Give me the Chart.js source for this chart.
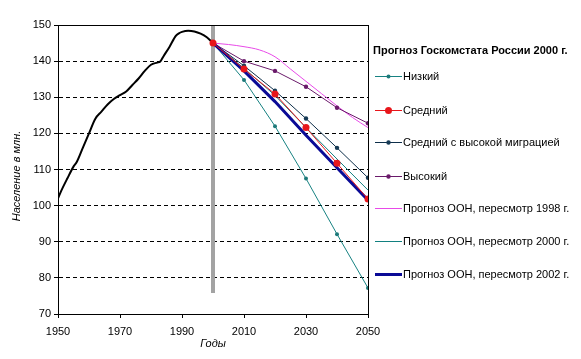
<!DOCTYPE html>
<html>
<head>
<meta charset="utf-8">
<script src="https://cdn.jsdelivr.net/npm/chart.js@4/dist/chart.umd.min.js"></script>
<style>
html,body{margin:0;padding:0;background:#fff;}
canvas{display:block;}
</style>
</head>
<body>
<canvas id="c" width="581" height="359"></canvas>
<script>
// ---- data ----
const histYears  = [1950,1951,1953,1955,1956,1958,1960,1962,1964,1966,1968,1970,1972,1974,1976,1978,1980,1982,1983,1984,1986,1988,1989,1990,1992,1994,1996,1998,2000];
const histValues = [102.0,104.0,107.5,110.8,112.0,116.0,120.0,124.0,126.0,128.0,129.5,130.6,131.6,133.4,135.2,137.3,139.0,139.6,139.9,141.3,144.0,147.0,147.7,148.1,148.4,148.2,147.6,146.6,145.0];

const forecastYears = [2000,2010,2020,2030,2040,2050];
const lowValues     = [145.0,134.8,122.0,107.5,92.1,77.2];
const mediumValues  = [145.0,137.8,130.9,121.6,111.7,101.8];
const medMigrValues = [145.0,138.7,131.8,124.1,116.0,107.7];
const highValues    = [145.0,140.0,137.3,132.9,127.1,122.8];

const un1998Years  = [2000,2005,2010,2015,2020,2025,2030,2035,2040,2045,2050];
const un1998Values = [145.0,144.6,144.0,143.1,141.2,137.8,134.4,131.0,127.6,124.4,121.6];
const un2000Values = [145.0,138.0,130.5,121.6,112.9,104.3];
const un2002Values = [145.0,137.3,128.8,119.5,110.5,101.5];

const markerYear = 2000;
const markerRange = [150, 75.8];

const xTickMin = 1950, xTickMax = 2050, xTickStep = 20;
const yTickMin = 70, yTickMax = 150, yTickStep = 10;

const legendTitle = 'Прогноз Госкомстата России 2000 г.';
const seriesLabels = ['Низкий','Средний','Средний с высокой миграцией','Высокий',
  'Прогноз ООН, пересмотр 1998 г.','Прогноз ООН, пересмотр 2000 г.','Прогноз ООН, пересмотр 2002 г.'];
const xTitle = 'Годы';
const yTitle = 'Население в млн.';

// ---- helpers ----
const pts = (xs, ys) => xs.map((x, i) => ({x, y: ys[i]}));
const FONT = "'Liberation Sans', Arial, sans-serif";

const series = [
  {label: seriesLabels[0], data: pts(forecastYears, lowValues),     color:'#178282', mcolor:'#1d7a7a', width:1, r:2,   order:5},
  {label: seriesLabels[1], data: pts(forecastYears, mediumValues),  color:'#e8161b', mcolor:'#e8161b', width:1, r:3.5, order:1},
  {label: seriesLabels[2], data: pts(forecastYears, medMigrValues), color:'#0e2f4a', mcolor:'#163a55', width:1, r:2.2, order:3},
  {label: seriesLabels[3], data: pts(forecastYears, highValues),    color:'#6a1a6a', mcolor:'#6a1a6a', width:1, r:2.2, order:4},
  {label: seriesLabels[4], data: pts(un1998Years, un1998Values),    color:'#e84ae8', mcolor:null, width:1, r:0, order:6, smooth:true},
  {label: seriesLabels[5], data: pts(forecastYears, un2000Values),  color:'#128080', mcolor:null, width:1, r:0, order:7},
  {label: seriesLabels[6], data: pts(forecastYears, un2002Values),  color:'#0a0a96', mcolor:null, width:3, r:0, order:2},
];

const datasets = [
  {label:'hist', data: pts(histYears, histValues), borderColor:'#000', borderWidth:2, pointRadius:0, tension:0.3, cubicInterpolationMode:'monotone', order:8},
  {label:'mark', data: [{x:markerYear,y:markerRange[0]},{x:markerYear,y:markerRange[1]}], borderColor:'#a3a3a3', borderWidth:4, pointRadius:0, order:9},
];
series.forEach(s => datasets.push({
  label: s.label, data: s.data, borderColor: s.color, borderWidth: s.width,
  pointRadius: s.r, pointBackgroundColor: s.mcolor || s.color, pointBorderColor: s.mcolor || s.color,
  pointBorderWidth: 0, cubicInterpolationMode: s.smooth ? 'monotone' : 'default', tension: s.smooth ? 0.4 : 0,
  order: s.order
}));

const decor = {
  id: 'decor',
  afterDraw(chart) {
    const {ctx, chartArea: a} = chart;
    ctx.save();
    ctx.setLineDash([]);
    ctx.strokeStyle = '#000';
    ctx.lineWidth = 1;
    ctx.strokeRect(Math.round(a.left) + 0.5, Math.round(a.top) + 0.5, Math.round(a.right - a.left), Math.round(a.bottom - a.top));
    // axis titles
    ctx.fillStyle = '#000';
    ctx.font = 'italic 11px ' + FONT;
    ctx.textAlign = 'center';
    ctx.textBaseline = 'middle';
    ctx.fillText(xTitle, (a.left + a.right) / 2, 344);
    ctx.save();
    ctx.translate(17, 176);
    ctx.rotate(-Math.PI / 2);
    ctx.fillText(yTitle, 0, 0);
    ctx.restore();
    // legend
    ctx.textAlign = 'left';
    ctx.font = 'bold 11px ' + FONT;
    ctx.fillText(legendTitle, 373, 51);
    ctx.font = '11px ' + FONT;
    const ys = [76, 110, 142, 176, 208, 241, 274];
    series.forEach((s, i) => {
      const y = ys[i];
      ctx.strokeStyle = s.color;
      ctx.lineWidth = s.width;
      ctx.beginPath();
      ctx.moveTo(375, y + 0.5);
      ctx.lineTo(402, y + 0.5);
      ctx.stroke();
      if (s.r > 0) {
        ctx.fillStyle = s.mcolor;
        ctx.beginPath();
        ctx.arc(388.5, y + 0.5, s.r, 0, Math.PI * 2);
        ctx.fill();
      }
      ctx.fillStyle = '#000';
      ctx.fillText(s.label, 403, y + 1);
    });
    ctx.restore();
  }
};

new Chart(document.getElementById('c'), {
  type: 'line',
  data: {datasets},
  options: {
    responsive: false,
    animation: false,
    devicePixelRatio: 1,
    layout: {padding: {left: 0, top: 25, right: 213, bottom: 0}},
    plugins: {legend: {display: false}, tooltip: {enabled: false}},
    elements: {line: {fill: false}},
    scales: {
      x: {
        type: 'linear', min: xTickMin, max: xTickMax,
        afterFit(s) { s.height = 45; },
        ticks: {stepSize: xTickStep, color: '#000', font: {family: FONT, size: 11}, padding: 7, maxRotation: 0,
                callback: v => String(v)},
        grid: {drawOnChartArea: false, drawTicks: true, tickLength: 4, tickColor: '#000', color: '#000'},
        border: {display: true, color: '#000', width: 1}
      },
      y: {
        type: 'linear', min: yTickMin, max: yTickMax,
        afterFit(s) { s.width = 58; },
        ticks: {stepSize: yTickStep, color: '#000', font: {family: FONT, size: 11}, padding: 3},
        grid: {color: '#000', drawTicks: true, tickLength: 4, tickColor: '#000', tickBorderDash: []},
        border: {display: true, color: '#000', width: 1, dash: [4, 3]}
      }
    }
  },
  plugins: [decor]
});
</script>
</body>
</html>
